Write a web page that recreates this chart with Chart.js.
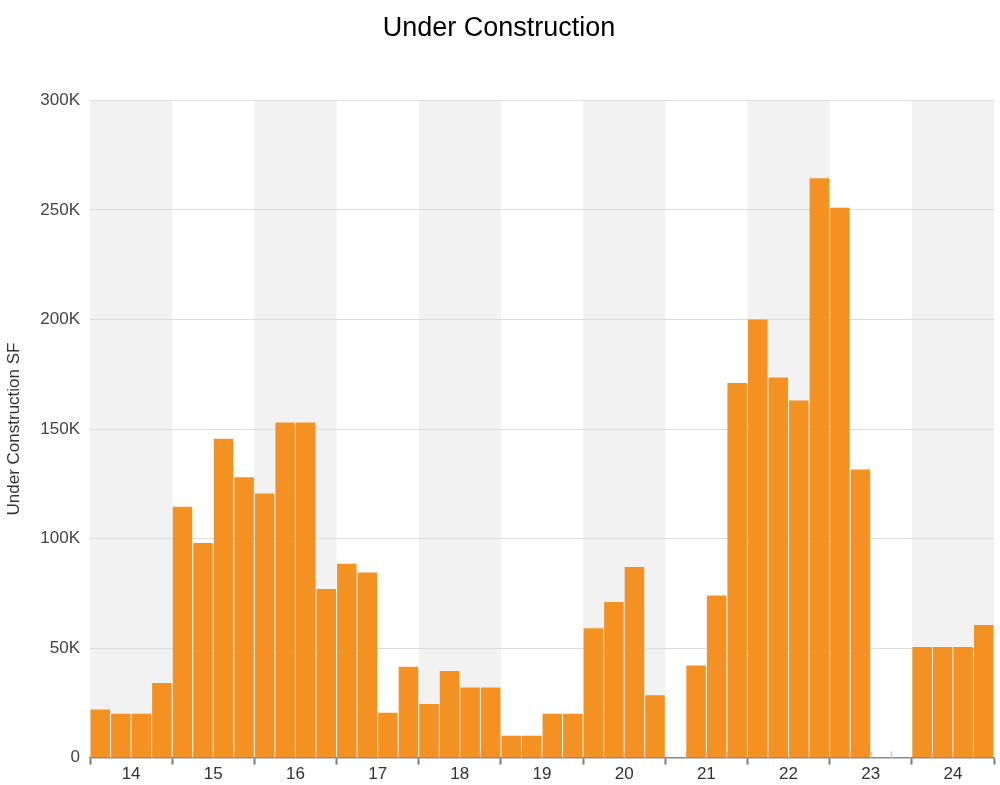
<!DOCTYPE html>
<html>
<head>
<meta charset="utf-8">
<script src="https://cdn.jsdelivr.net/npm/chart.js@4"></script>
<style>
    html, body { margin: 0; padding: 0; background: #fff; }
    #wrap { width: 1000px; height: 785px; }
</style>
</head>
<body>
<div id="wrap"><canvas id="chart"></canvas></div>
<script>
// years shown on the axis, 4 quarters each
var years = ["14", "15", "16", "17", "18", "19", "20", "21", "22", "23", "24"];
var quarters = ["Q1", "Q2", "Q3", "Q4"];

// under construction SF, in thousands, one value per quarter
var underConstruction = [
    22, 20, 20, 34,
    114.5, 98, 145.5, 128,
    120.5, 153, 153, 77,
    88.5, 84.5, 20.5, 41.5,
    24.5, 39.5, 32, 32,
    10, 10, 20, 20,
    59, 71, 87, 28.5,
    0, 42, 74, 171,
    200, 173.5, 163, 264.5,
    251, 131.5, 0, 0,
    50.5, 50.5, 50.5, 60.5
];

var quarterLabels = [];
years.forEach(function (y) {
    quarters.forEach(function (q) {
        quarterLabels.push(q + " " + y);
    });
});

var values = underConstruction.map(function (v) { return v * 1000; });

var fontFamily = "'Liberation Sans', Arial, Helvetica, sans-serif";

// grey band behind every other year
var yearBands = {
    id: "yearBands",
    beforeDraw: function (chart) {
        var ctx = chart.ctx;
        var area = chart.chartArea;
        var xs = chart.scales.x2;
        var step = (area.right - area.left) / years.length;
        ctx.save();
        ctx.fillStyle = "#f2f2f2";
        for (var i = 0; i < years.length; i += 2) {
            var mid = xs.getPixelForValue(i);
            ctx.fillRect(mid - step / 2, area.top, step, area.bottom - area.top);
        }
        ctx.restore();
    },
    beforeDatasetsDraw: function (chart) {
        // small quarter ticks on the base line
        var ctx = chart.ctx;
        var area = chart.chartArea;
        var xq = chart.scales.x;
        var step = (area.right - area.left) / quarterLabels.length;
        ctx.save();
        ctx.strokeStyle = "#c8c8c8";
        ctx.lineWidth = 1.5;
        for (var i = 1; i < quarterLabels.length; i++) {
            if (i % 4 === 0) continue;
            var x = Math.round(xq.getPixelForValue(i) - step / 2) + 0.5;
            ctx.beginPath();
            ctx.moveTo(x, area.bottom);
            ctx.lineTo(x, area.bottom - 6);
            ctx.stroke();
        }
        ctx.restore();
    }
};

new Chart(document.getElementById("chart"), {
    type: "bar",
    data: {
        labels: quarterLabels,
        datasets: [
            {
                label: "Under Construction SF",
                data: values,
                backgroundColor: "#f39123",
                borderWidth: 0,
                barPercentage: 0.95,
                categoryPercentage: 1,
                xAxisID: "x"
            }
        ]
    },
    options: {
        responsive: true,
        maintainAspectRatio: false,
        animation: false,
        layout: { padding: { left: 4, right: 6, top: 0, bottom: 0 } },
        plugins: {
            legend: { display: false },
            tooltip: { enabled: false },
            title: {
                display: true,
                text: "Under Construction",
                color: "#000",
                font: { family: fontFamily, size: 27, weight: "normal" },
                padding: { top: 12, bottom: 56 }
            }
        },
        scales: {
            x: {
                type: "category",
                display: false,
                offset: true,
                grid: { display: false }
            },
            x2: {
                type: "category",
                labels: years,
                position: "bottom",
                offset: true,
                grid: {
                    offset: true,
                    drawOnChartArea: false,
                    tickLength: 7,
                    tickWidth: 2,
                    color: "#7a7a7a"
                },
                border: { display: true, color: "#8a8a8a", width: 1.5 },
                ticks: {
                    color: "#333",
                    padding: 0,
                    font: { family: fontFamily, size: 17 }
                }
            },
            y: {
                min: 0,
                max: 300000,
                afterFit: function (scale) { scale.width = 86; },
                ticks: {
                    stepSize: 50000,
                    color: "#444",
                    padding: 10,
                    font: { family: fontFamily, size: 17 },
                    callback: function (v) { return v === 0 ? "0" : (v / 1000) + "K"; }
                },
                grid: { color: "#dcdcdc", drawTicks: false },
                border: { display: false },
                title: {
                    display: true,
                    text: "Under Construction SF",
                    color: "#333",
                    font: { family: fontFamily, size: 17 },
                    padding: { top: 0, bottom: 0 }
                }
            }
        }
    },
    plugins: [yearBands]
});
</script>
</body>
</html>
